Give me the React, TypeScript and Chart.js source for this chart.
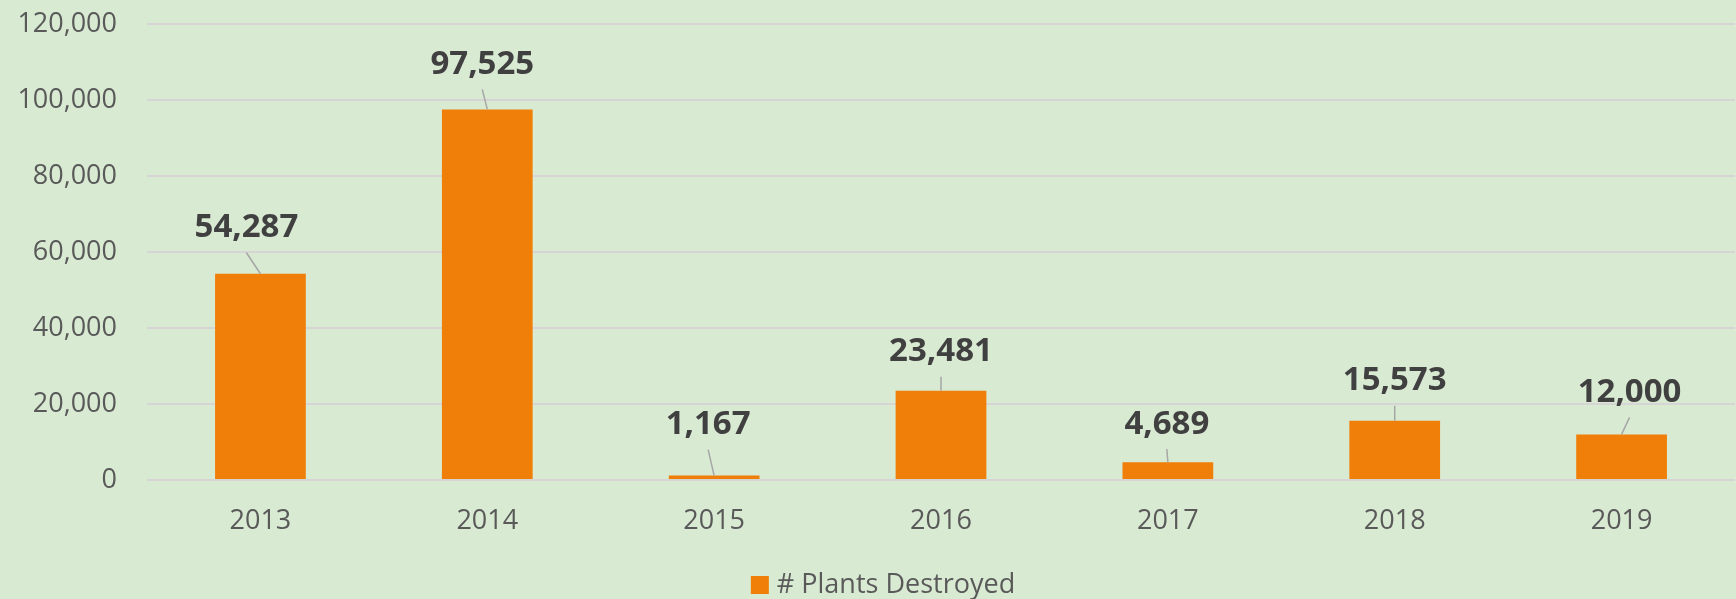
import React, { useEffect, useRef } from "react";
import { Chart, registerables } from "chart.js";

Chart.register(...registerables);

const categories = ["2013", "2014", "2015", "2016", "2017", "2018", "2019"];
const plantsDestroyed = [54287, 97525, 1167, 23481, 4689, 15573, 12000];
const seriesLabel = "# Plants Destroyed";
const yMax = 120000;
const yStep = 20000;

// label placement (pixel offsets of each value label from its bar top)
const labelDx = [-14, -5, -6, 0, -1, 0, 8];
const labelDy = [-46, -45, -51, -39, -38, -40, -42];

const BG = "#D9EAD3";
const BAR = "#F07F09";
const FONT = "'Open Sans', 'Noto Sans', sans-serif";

const labelPlugin = {
  id: "valueLabels",
  afterDatasetsDraw(chart: any) {
    const ctx = chart.ctx;
    const meta = chart.getDatasetMeta(0);
    ctx.save();
    meta.data.forEach((bar: any, i: number) => {
      const lx = bar.x + labelDx[i];
      const ly = bar.y + labelDy[i];
      ctx.strokeStyle = "#A6A6A6";
      ctx.lineWidth = 1.5;
      ctx.beginPath();
      ctx.moveTo(lx, ly + 25);
      ctx.lineTo(bar.x, bar.y);
      ctx.stroke();
      ctx.fillStyle = "#404040";
      ctx.font = `bold 33px ${FONT}`;
      ctx.textAlign = "center";
      ctx.textBaseline = "middle";
      ctx.fillText(plantsDestroyed[i].toLocaleString("en-US"), lx, ly);
    });
    // legend
    const text = seriesLabel;
    ctx.font = `27px ${FONT}`;
    const tw = ctx.measureText(text).width;
    const box = 18;
    const gap = 8;
    const total = box + gap + tw;
    const cx = chart.width / 2 + 15;
    const x0 = cx - total / 2;
    const cy = chart.height - 14;
    ctx.fillStyle = BAR;
    ctx.fillRect(x0, cy - box / 2, box, box);
    ctx.fillStyle = "#595959";
    ctx.textAlign = "left";
    ctx.textBaseline = "middle";
    ctx.fillText(text, x0 + box + gap, cy);
    ctx.restore();
  },
};

export default function App() {
  const ref = useRef<HTMLCanvasElement>(null);
  useEffect(() => {
    if (!ref.current) return;
    const chart = new Chart(ref.current, {
      type: "bar",
      data: {
        labels: categories,
        datasets: [
          {
            label: seriesLabel,
            data: plantsDestroyed,
            backgroundColor: BAR,
            borderWidth: 0,
            barPercentage: 0.4,
            categoryPercentage: 1,
          },
        ],
      },
      options: {
        animation: false,
        responsive: true,
        maintainAspectRatio: false,
        layout: { padding: { top: 24, right: 1, left: 0, bottom: 0 } },
        plugins: {
          legend: { display: false },
          tooltip: { enabled: false },
        },
        scales: {
          x: {
            grid: { display: false, drawTicks: false },
            border: { display: false },
            ticks: {
              color: "#595959",
              font: { family: FONT, size: 27, lineHeight: 1.2 },
              padding: 25,
            },
            afterFit(scale: any) {
              scale.height = 119;
              scale.paddingLeft = 0;
              scale.paddingRight = 0;
            },
          },
          y: {
            min: 0,
            max: yMax,
            grid: { color: "#D6D4D4", lineWidth: 2, drawTicks: false },
            border: { display: false },
            ticks: {
              stepSize: yStep,
              color: "#595959",
              font: { family: FONT, size: 27 },
              padding: 30,
              callback: (v: any) => Number(v).toLocaleString("en-US"),
            },
            afterFit(scale: any) {
              scale.width = 147;
              scale.paddingTop = 0;
              scale.paddingBottom = 0;
            },
          },
        },
      },
      plugins: [labelPlugin],
    });
    return () => chart.destroy();
  }, []);
  return (
    <div
      style={{
        position: "fixed",
        left: 0,
        top: 0,
        width: 1736,
        height: 599,
        background: BG,
      }}
    >
      <canvas ref={ref} />
    </div>
  );
}
